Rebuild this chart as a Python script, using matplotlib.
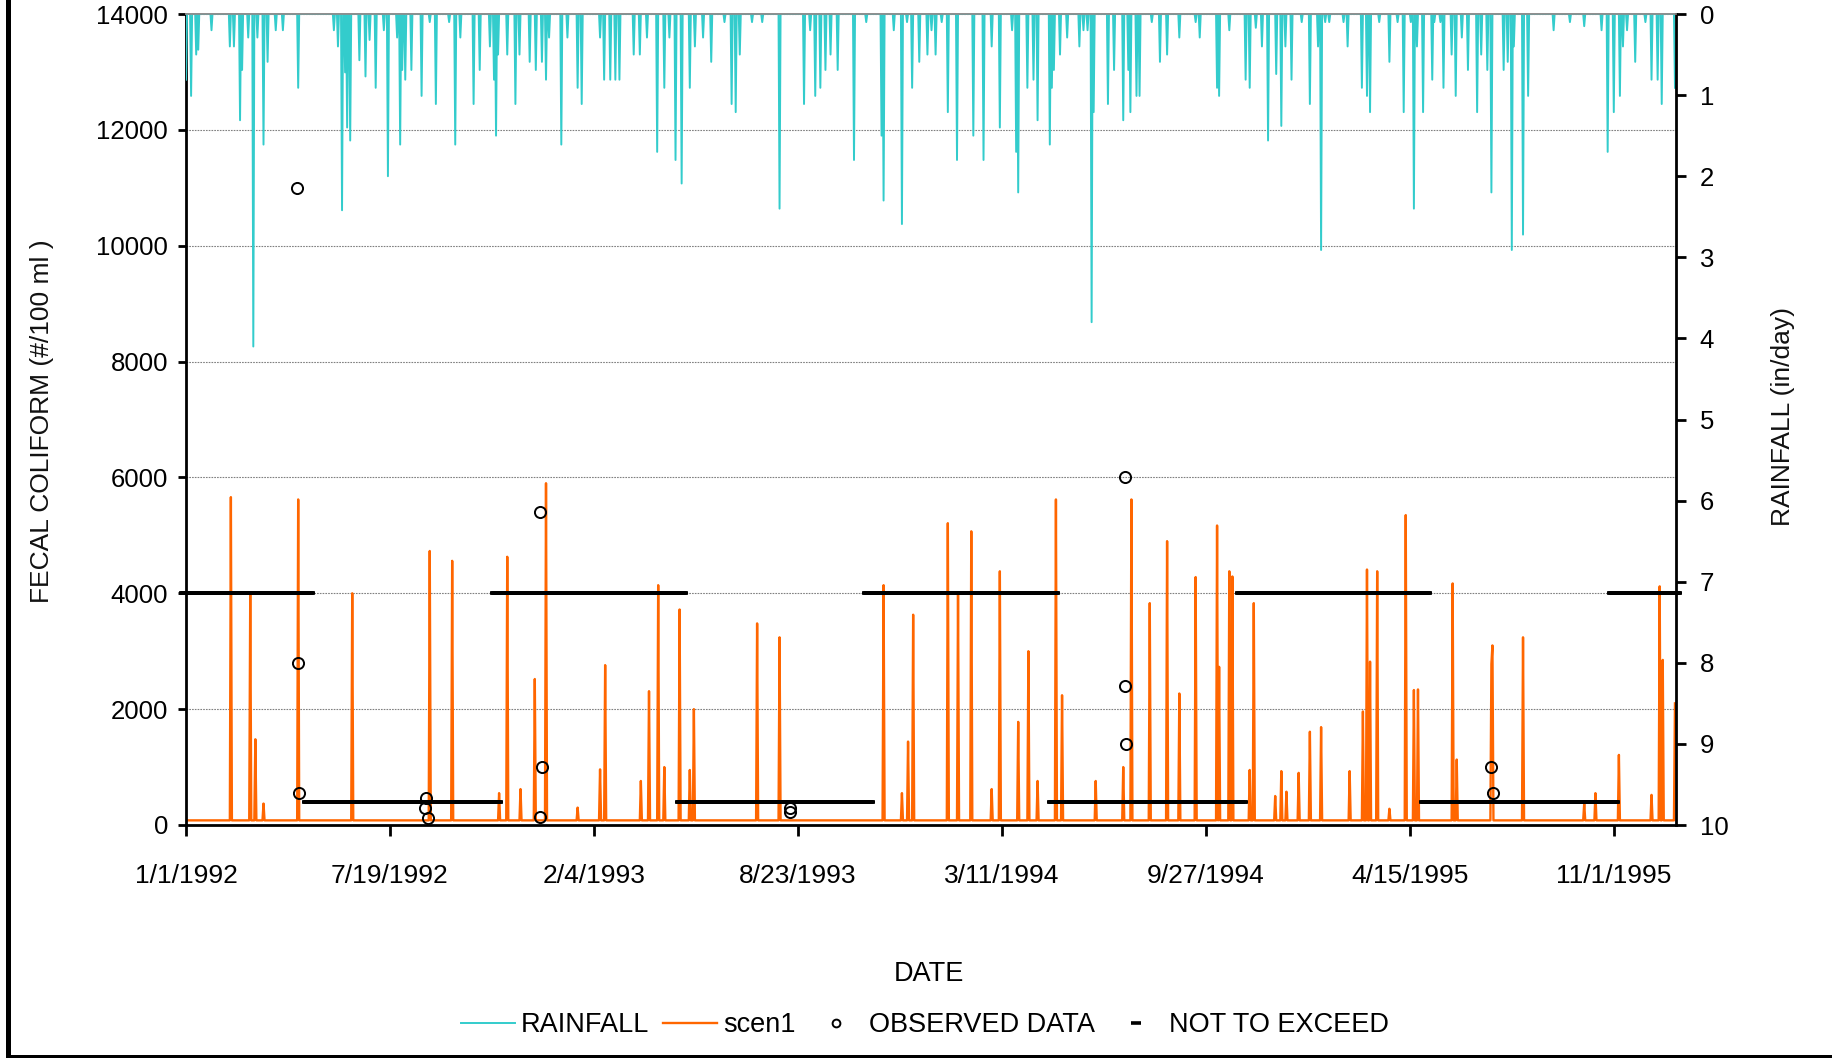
import numpy as np
import pandas as pd
import matplotlib.pyplot as plt
from matplotlib.patches import Rectangle

plt.rcParams['font.family'] = ['Liberation Sans', 'DejaVu Sans']

# dates on the x axis
start = np.datetime64('1992-01-01')
n_days = 1461
tick_labels = ['1/1/1992', '7/19/1992', '2/4/1993', '8/23/1993',
               '3/11/1994', '9/27/1994', '4/15/1995', '11/1/1995']

# daily rainfall (in/day) -- days counted from 1/1/1992, all other days dry
rain_day = [0, 5, 10, 12, 25, 43, 47, 53, 55, 61, 66, 70, 76, 80, 88, 95, 110,
            145, 149, 153, 156, 158, 161, 170, 176, 180, 186, 194, 198, 207, 210,
            212, 215, 221, 231, 239, 245, 258, 264, 269, 282, 288, 298, 302, 304,
            306, 315, 323, 327, 337, 343, 349, 353, 356, 368, 374, 384, 388, 406,
            410, 416, 421, 425, 439, 445, 452, 462, 469, 474, 480, 486, 494, 499,
            507, 515, 528, 535, 539, 543, 555, 565, 582, 606, 612, 617, 622, 627,
            632, 639, 655, 667, 682, 684, 694, 702, 707, 712, 719, 727, 731, 735,
            741, 747, 756, 772, 782, 790, 798, 810, 814, 816, 825, 831, 835, 847,
            849, 851, 857, 864, 876, 880, 884, 888, 890, 904, 910, 919, 924, 926,
            932, 935, 947, 955, 962, 974, 990, 994, 1011, 1013, 1023, 1039, 1043,
            1049, 1055, 1061, 1069, 1074, 1078, 1084, 1094, 1102, 1110, 1113, 1117,
            1121, 1135, 1139, 1153, 1158, 1161, 1170, 1180, 1188, 1194, 1201, 1204,
            1207, 1213, 1222, 1224, 1230, 1233, 1241, 1245, 1251, 1257, 1266, 1270,
            1276, 1280, 1292, 1296, 1300, 1302, 1311, 1316, 1341, 1357, 1371, 1388,
            1394, 1400, 1406, 1409, 1413, 1421, 1431, 1437, 1443, 1447, 1460]
rain_in = [0.81, 1.01, 0.5, 0.44, 0.2, 0.4, 0.4, 1.31, 0.69, 0.29, 4.1, 0.29, 1.61,
           0.59, 0.2, 0.2, 0.91, 0.2, 0.4, 2.42, 0.72, 1.4, 1.56, 0.57, 0.77, 0.32,
           0.91, 0.2, 2.0, 0.29, 1.61, 0.69, 0.81, 0.69, 1.01, 0.1, 1.11, 0.1, 1.61,
           0.29, 1.11, 0.69, 0.4, 0.81, 1.5, 0.5, 0.5, 1.11, 0.5, 0.59, 0.69, 0.59,
           0.81, 0.29, 1.61, 0.29, 0.91, 1.11, 0.29, 0.81, 0.81, 0.81, 0.81, 0.5,
           0.5, 0.29, 1.7, 0.91, 0.29, 1.8, 2.09, 0.91, 0.4, 0.29, 0.59, 0.1, 1.11,
           1.21, 0.5, 0.1, 0.1, 2.4, 1.11, 0.2, 1.01, 0.91, 0.69, 0.5, 0.69, 1.8,
           0.1, 1.5, 2.3, 0.2, 2.59, 0.1, 0.91, 0.59, 0.5, 0.2, 0.5, 0.1, 1.21, 1.8,
           1.5, 1.8, 0.4, 1.4, 0.2, 1.7, 2.2, 0.91, 0.81, 1.31, 1.61, 0.91, 0.69,
           0.5, 0.29, 0.4, 0.2, 0.2, 3.8, 1.21, 1.11, 0.69, 1.31, 0.69, 1.21, 1.01,
           1.01, 0.1, 0.59, 0.5, 0.29, 0.1, 0.29, 0.91, 1.01, 0.2, 0.81, 0.91, 0.17,
           0.4, 1.56, 0.74, 1.38, 0.4, 0.81, 0.1, 1.11, 0.4, 2.91, 0.1, 0.1, 0.1,
           0.4, 0.91, 1.01, 1.21, 0.1, 0.59, 0.1, 1.21, 0.1, 2.4, 0.4, 1.21, 0.81,
           0.1, 0.1, 0.91, 0.5, 1.01, 0.29, 0.69, 1.21, 0.5, 0.69, 2.2, 0.69, 0.59,
           2.91, 0.4, 2.72, 1.01, 0.2, 0.1, 0.15, 0.2, 1.7, 1.21, 1.01, 0.4, 0.2,
           0.59, 0.1, 0.81, 0.81, 1.11, 0.91]

# scen1 fecal coliform: dry-weather level and storm peaks (#/100 ml)
scen1_base = 80
scen1_day = [44, 63, 68, 76, 110, 163, 239, 261, 307, 315, 328, 342, 353, 384, 406,
             411, 446, 454, 463, 469, 484, 494, 498, 560, 582, 684, 702, 708, 713,
             747, 757, 770, 790, 798, 816, 826, 835, 853, 859, 892, 919, 927, 945,
             962, 974, 990, 1011, 1013, 1023, 1026, 1043, 1047, 1068, 1074, 1079,
             1091, 1102, 1113, 1141, 1154, 1158, 1161, 1168, 1180, 1196, 1204, 1208,
             1242, 1246, 1280, 1281, 1311, 1371, 1382, 1405, 1437, 1445, 1448, 1460]
scen1_val = [5660, 4000, 1480, 370, 5620, 4000, 4730, 4560, 550, 4630, 620, 2520,
             5900, 300, 960, 2760, 760, 2310, 4140, 1000, 3720, 950, 2000, 3480,
             3240, 4140, 550, 1440, 3630, 5210, 4000, 5070, 620, 4380, 1780, 3000,
             760, 5620, 2240, 760, 1000, 5620, 3830, 4900, 2270, 4280, 5170, 2730,
             4380, 4290, 950, 3830, 500, 930, 575, 900, 1610, 1690, 930, 1960, 4410,
             2820, 4380, 280, 5350, 2330, 2340, 4170, 1130, 2780, 3100, 3240, 370,
             550, 1210, 520, 4120, 2850, 2100]

# observed samples
obs_day = [109, 110, 111, 234, 235, 237, 347, 347, 349, 592, 592, 921, 921, 922,
           1280, 1282]
obs_val = [11000, 2800, 560, 290, 460, 115, 5400, 130, 1000, 290, 230, 6000, 2400,
           1400, 1000, 560]

# not-to-exceed standard by season
nte_start = ['1992-01-01', '1992-05-01', '1992-11-01', '1993-05-01', '1993-11-01',
             '1994-05-01', '1994-11-01', '1995-05-01', '1995-11-01', '1996-01-01']
nte_level = [4000, 400, 4000, 400, 4000, 400, 4000, 400, 4000]

days = start + np.arange(n_days)
rain = np.zeros(n_days)
rain[rain_day] = rain_in
scen1 = np.full(n_days, float(scen1_base))
scen1[scen1_day] = scen1_val
obs_dates = start + np.array(obs_day)

nte_dates, nte_vals = [], []
for i, lev in enumerate(nte_level):
    d = np.arange(np.datetime64(nte_start[i]), np.datetime64(nte_start[i + 1]))
    nte_dates.extend(d)
    nte_vals.extend([lev] * len(d))

fig = plt.figure(figsize=(18.32, 10.58), dpi=100)
ax = fig.add_axes([186 / 1832, 1 - 825 / 1058, 1490 / 1832, 811 / 1058])
ax2 = ax.twinx()

l_scen, = ax.plot(days, scen1, color='#FF6600', lw=1.7, label='scen1')
l_obs, = ax.plot(obs_dates, obs_val, ls='none', marker='o', ms=8, mfc='none',
                 mec='black', mew=1.4, label='OBSERVED DATA', zorder=5)
l_nte, = ax.plot(nte_dates, nte_vals, ls='none', marker='_', ms=10, mew=2.6,
                 color='black', label='NOT TO EXCEED', clip_on=False, zorder=4)
l_rain, = ax2.plot(days, rain, color='#33CCCC', lw=1.4, label='RAINFALL')

ax.set_xlim(start, start + n_days)
ax.set_ylim(0, 14000)
ax.set_yticks(np.arange(0, 14001, 2000))
ax2.set_ylim(10, 0)
ax2.set_yticks(np.arange(0, 11, 1))

tick_pos = pd.to_datetime(tick_labels, format='%m/%d/%Y').values
ax.set_xticks(tick_pos)
ax.set_xticklabels(tick_labels)

ax.yaxis.grid(True, linestyle=(0, (1.5, 1)), color='#808080', lw=0.8)
ax.set_axisbelow(True)

for a in (ax, ax2):
    a.spines['top'].set_color('#8c8c8c')
    a.spines['top'].set_linewidth(1.2)
ax.spines['right'].set_visible(False)
ax2.spines['left'].set_visible(False)
ax2.spines['bottom'].set_visible(False)
for s in ('left', 'bottom'):
    ax.spines[s].set_linewidth(2)
ax2.spines['right'].set_linewidth(2)

ax.tick_params(axis='y', length=6, width=2, labelsize=18.5, pad=7)
ax.tick_params(axis='x', length=8, width=2, labelsize=19, pad=20)
ax2.tick_params(axis='y', length=7, width=2, labelsize=18.5, pad=10)

fig.text(929 / 1832, 1 - 974 / 1058, 'DATE', ha='center', va='center', fontsize=19.5)
fig.text(42 / 1832, 1 - 421 / 1058, 'FECAL COLIFORM (#/100 ml )', rotation=90,
         ha='center', va='center', fontsize=19, color='#111111')
fig.text(1783 / 1832, 1 - 417 / 1058, 'RAINFALL (in/day)', rotation=90,
         ha='center', va='center', fontsize=19, color='#111111')

fig.legend([l_rain, l_scen, l_obs, l_nte],
           ['RAINFALL', 'scen1', 'OBSERVED DATA', 'NOT TO EXCEED'],
           loc='center', bbox_to_anchor=(925 / 1832, 1 - 1025 / 1058), ncol=4,
           frameon=False, fontsize=19.5, handlelength=2.0, handletextpad=0.22,
           columnspacing=0.5, markerscale=0.7)

# frame strips on the left and bottom edges of the picture
fig.add_artist(Rectangle((6 / 1832, 0), 5 / 1832, 1, transform=fig.transFigure,
                         color='black', lw=0))
fig.add_artist(Rectangle((6 / 1832, 0), 1, 3.5 / 1058, transform=fig.transFigure,
                         color='black', lw=0))

fig.savefig('out.png', dpi=100)
